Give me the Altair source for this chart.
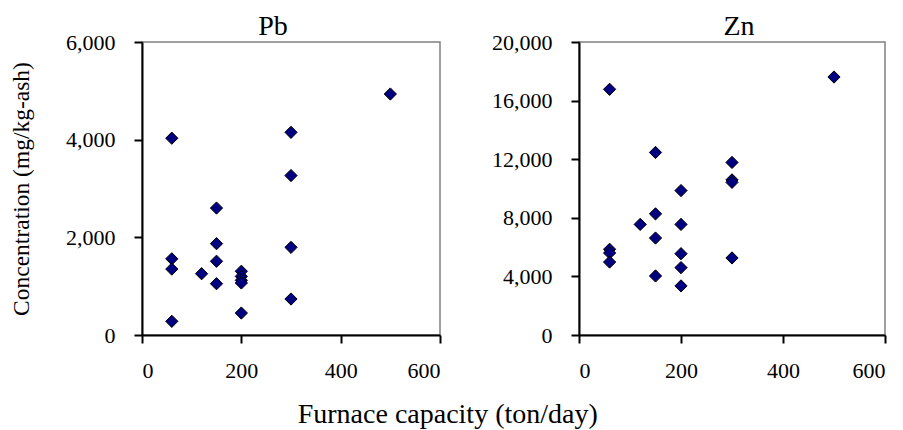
import altair as alt
import pandas as pd

# Pb panel
pb_capacity = [60, 60, 60, 60, 120, 150, 150, 150, 150, 200, 200, 200, 200, 200, 300, 300, 300, 300, 500]
pb_conc = [4030, 1560, 1350, 280, 1255, 2600, 1870, 1510, 1050, 1305, 1200, 1120, 1065, 450, 4150, 3265, 1795, 737, 4935]

# Zn panel
zn_capacity = [60, 60, 60, 60, 120, 150, 150, 150, 150, 200, 200, 200, 200, 200, 300, 300, 300, 300, 500]
zn_conc = [16770, 5850, 5600, 4980, 7550, 12460, 8270, 6620, 4030, 9860, 7550, 5550, 4600, 3350, 11780, 10590, 10420, 5260, 17610]

x_ticks = [0, 200, 400, 600]
pb_ticks = [0, 2000, 4000, 6000]
zn_ticks = [0, 4000, 8000, 12000, 16000, 20000]

FONT = "Liberation Serif"

pb_df = pd.DataFrame({"capacity": pb_capacity, "conc": pb_conc})
zn_df = pd.DataFrame({"capacity": zn_capacity, "conc": zn_conc})


def panel(df, name, yticks, ymax, width, height, ytitle, dx):
    return alt.Chart(df, title=alt.TitleParams(name, fontSize=28, font=FONT, fontWeight="normal",
                                               color="#000000", offset=-10, dx=dx)).mark_point(
        shape="diamond", filled=True, size=150, color="#000080",
        stroke="#000000", strokeWidth=1, opacity=1
    ).encode(
        x=alt.X("capacity:Q", scale=alt.Scale(domain=[0, 600], nice=False),
                axis=alt.Axis(values=x_ticks, title=None, grid=False, labelPadding=17)),
        y=alt.Y("conc:Q", scale=alt.Scale(domain=[0, ymax], nice=False),
                axis=alt.Axis(values=yticks, format=",.0f", grid=False, title=ytitle,
                              labelPadding=19)),
    ).properties(width=width, height=height)


pb = panel(pb_df, "Pb", pb_ticks, 6000, 298, 293, "Concentration (mg/kg-ash)", -18)
zn = panel(zn_df, "Zn", zn_ticks, 20000, 306, 293, None, 7)

chart = alt.hconcat(pb, zn, spacing=139, bounds="flush").properties(
    title=alt.TitleParams("Furnace capacity (ton/day)", orient="bottom", anchor="middle",
                          fontSize=28, font=FONT, fontWeight="normal", color="#000000", offset=19),
    padding={"left": 0, "top": 4, "right": 5, "bottom": 0},
    background="white",
).configure_view(
    stroke="#808080", strokeWidth=1.5
).configure_axis(
    domainColor="#000000", domainWidth=2, tickColor="#000000", tickWidth=2, tickSize=8,
    labelFont=FONT, labelFontSize=22, labelColor="#000000",
    titleFont=FONT, titleFontSize=23.5, titleFontWeight="normal", titleColor="#000000",
    titlePadding=32
)

chart.save("out.html", embed_options={"renderer": "svg", "actions": False})
